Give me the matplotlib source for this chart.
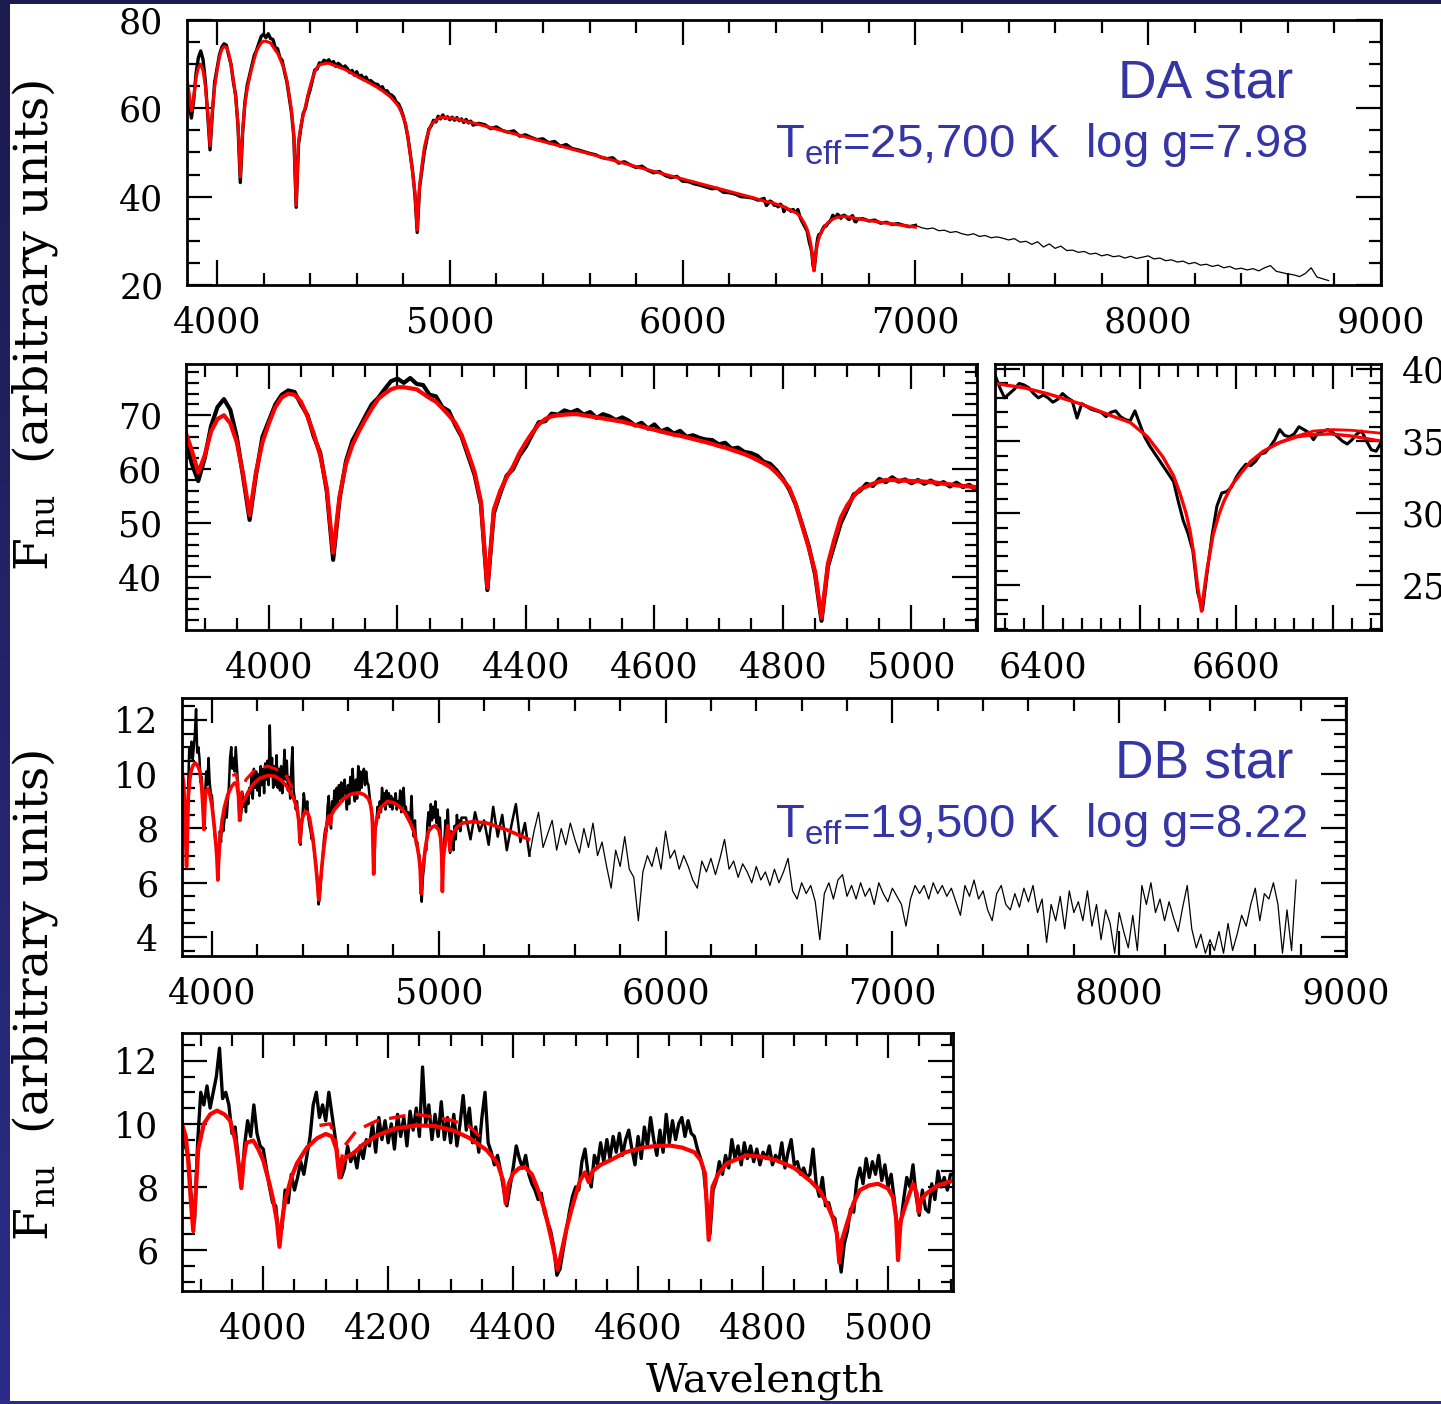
import numpy as np
import matplotlib
matplotlib.use("Agg")
import matplotlib.pyplot as plt
from matplotlib.ticker import MultipleLocator, FuncFormatter
from matplotlib.patches import Rectangle
from matplotlib.colors import LinearSegmentedColormap

plt.rcParams['font.family'] = ['DejaVu Serif']
plt.rcParams['mathtext.fontset'] = 'custom'
plt.rcParams['mathtext.rm'] = 'DejaVu Serif'
plt.rcParams['mathtext.sf'] = 'Liberation Sans'

# ---------------- DA white dwarf ----------------
# observed flux, 10 A sampling starting at 3870 A
da_obs_blue = [
    66.0, 61.0, 57.8, 62.0, 68.0, 71.5, 73.0, 71.0, 66.0, 58.5,
    50.6, 59.0, 66.0, 69.0, 72.0, 73.8, 74.6, 74.3, 72.0, 70.0,
    66.0, 63.0, 56.0, 43.2, 54.5, 61.5, 65.3, 67.5, 69.8, 72.0,
    73.2, 74.8, 76.3, 76.8, 76.0, 76.9, 75.8, 75.6, 73.8, 73.5,
    71.5, 70.8, 68.2, 66.0, 62.5, 59.0, 53.5, 37.6, 51.8, 55.5,
    58.8, 60.0, 62.5, 64.2, 66.5, 68.7, 68.9, 70.3, 70.1, 70.9,
    70.5, 71.0, 70.1, 70.6, 69.5, 70.2, 69.8, 69.1, 69.6, 69.0,
    68.1, 68.6, 67.5, 68.3, 67.0, 67.5, 66.6, 67.1, 66.0, 66.3,
    65.8, 65.5, 65.4, 64.6, 64.9, 63.8, 64.0, 63.2, 63.0, 62.5,
    61.4, 61.0, 59.8, 58.2, 56.2, 53.4, 49.7, 45.8, 40.5, 31.9,
    42.0, 46.0, 50.0, 52.6, 55.3, 56.0, 57.3, 56.9, 58.2, 57.6,
    58.5, 57.7, 58.1, 57.4, 58.0, 57.3, 57.9, 57.2, 57.6, 56.8,
    57.5, 56.7, 57.1, 56.2]
# observed flux, 25 A sampling starting at 5125 A
da_obs_mid = [
    56.6, 56.3, 55.4, 55.8, 55.0, 54.6, 54.9, 53.7, 54.0, 53.4,
    52.9, 53.1, 52.2, 52.5, 51.4, 51.8, 50.9, 50.6, 50.2, 49.8,
    49.5, 48.9, 48.6, 48.8, 47.6, 47.9, 47.2, 46.6, 46.9, 46.0,
    45.4, 45.7, 44.8, 44.3, 44.6, 43.5, 43.4, 42.9, 42.6, 42.2,
    41.8, 41.9, 41.0, 40.9, 40.6, 40.0, 39.9, 39.7, 39.2]
# observed flux around H-alpha, 5 A sampling starting at 6350 A
da_obs_halpha = [
    39.6, 38.7, 38.0, 38.3, 38.6, 39.0, 38.9, 38.7, 38.3, 38.0,
    38.2, 38.0, 37.7, 37.9, 38.3, 38.0, 37.8, 36.6, 37.6, 37.4,
    37.2, 37.1, 37.0, 36.7, 37.0, 37.1, 36.7, 36.5, 36.4, 37.1,
    36.2, 35.3, 34.7, 34.2, 33.7, 33.2, 32.7, 32.2, 30.8, 29.5,
    28.6, 27.4, 24.5, 23.3, 26.0, 28.5, 30.5, 31.4, 31.5, 31.8,
    32.5, 33.0, 33.4, 33.3, 33.6, 34.1, 34.2, 34.6, 35.1, 35.8,
    35.4, 35.3, 35.5, 36.0, 35.8, 35.6, 35.1, 35.6, 35.7, 35.8,
    35.6, 35.3, 35.0, 34.8, 35.1, 35.5, 35.7, 35.0, 34.4, 34.3,
    34.9]
# observed flux, 25 A sampling starting at 6775 A
da_obs_tail = [
    35.0, 34.5, 34.7, 34.0, 34.2, 33.7, 33.9, 33.5, 33.2, 33.5,
    33.0, 32.7, 32.9, 32.3, 32.4, 31.9, 32.1, 31.6, 31.3, 31.6,
    31.0, 31.2, 30.7, 30.9, 30.6, 30.2, 30.5, 29.7, 29.9, 29.2,
    29.8, 28.6, 29.3, 28.3, 28.8, 27.8, 27.9, 27.4, 27.6, 27.0,
    27.2, 26.6, 26.9, 26.4, 26.6, 26.1, 26.5, 26.0, 26.3, 26.6,
    25.9, 26.1, 25.5, 25.7, 25.2, 25.4, 24.8, 25.1, 24.5, 24.7,
    24.2, 24.5, 23.9, 24.2, 23.6, 23.8, 23.4, 23.7, 23.2, 23.9,
    24.4, 23.1, 22.8, 22.5, 22.3, 21.9, 22.6, 23.9, 21.8, 21.4,
    21.0]
# model fit, 10 A sampling from 3870 A
da_fit_blue = [
    67.0, 63.5, 59.4, 62.5, 67.0, 69.3, 70.0, 68.5, 65.0, 59.0,
    51.5, 59.5, 65.0, 68.5, 71.5, 73.3, 74.0, 73.8, 72.5, 69.8,
    66.5, 62.5, 56.5, 44.5, 55.0, 61.0, 64.5, 67.0, 69.2, 71.2,
    73.0, 74.0, 74.8, 75.2, 75.2, 75.0, 74.8, 74.0, 73.2, 72.5,
    71.3, 70.0, 68.6, 66.3, 63.0, 59.5, 54.0, 38.0, 52.5, 56.0,
    58.5, 60.5, 63.0, 65.0, 66.8, 68.3, 69.3, 69.8, 70.0, 70.1,
    70.2, 70.2, 70.0, 69.8, 69.6, 69.4, 69.2, 69.0, 68.8, 68.5,
    68.2, 67.9, 67.6, 67.3, 67.0, 66.7, 66.4, 66.2, 65.9, 65.6,
    65.3, 65.0, 64.7, 64.3, 64.0, 63.6, 63.2, 62.8, 62.3, 61.7,
    61.1, 60.4, 59.3, 58.0, 56.5, 53.5, 49.5, 45.5, 41.0, 32.4,
    42.5, 47.0, 51.0, 53.3, 55.0, 56.3, 56.8, 57.3, 57.7, 58.0,
    58.0, 57.9, 57.9, 57.8, 57.8, 57.7, 57.6, 57.5, 57.3, 57.2,
    57.0, 56.9, 56.8, 56.7]
da_fit_red_wl = [5200, 5400, 5600, 5800, 6000, 6200, 6300, 6350, 6380, 6404,
                 6438, 6473, 6490, 6508, 6524, 6535, 6542, 6548, 6552, 6556,
                 6560, 6564, 6567, 6570, 6576, 6582, 6587, 6595, 6604, 6615,
                 6628, 6645, 6663, 6680, 6697, 6720, 6750, 6850, 7000]
da_fit_red = [55.3, 52.5, 49.7, 46.8, 44.0, 41.2, 39.8, 39.0, 38.7, 38.3,
              37.6, 36.7, 36.3, 35.3, 33.9, 32.6, 31.3, 30.0, 28.8, 27.2,
              24.9, 23.2, 24.8, 26.2, 28.5, 29.9, 30.8, 31.9, 32.7, 33.6,
              34.3, 34.9, 35.3, 35.45, 35.5, 35.35, 35.0, 34.2, 33.1]
da_fit2_wl = [6640, 6660, 6680, 6700, 6720, 6750]
da_fit2 = [34.8, 35.3, 35.7, 35.8, 35.75, 35.55]

# ---------------- DB white dwarf ----------------
# observed flux, 5 A sampling from 3870 A
db_obs_blue = [
    10.0, 9.3, 9.0, 7.6, 6.9, 9.4, 11.0, 10.6, 11.2, 10.5,
    11.0, 11.5, 12.4, 10.8, 11.0, 10.6, 9.7, 9.9, 8.9, 8.0,
    9.3, 10.1, 9.6, 10.6, 9.7, 9.3, 9.2, 8.6, 8.0, 7.5,
    7.4, 6.4, 6.7, 7.9, 7.5, 8.4, 7.9, 8.3, 8.8, 8.4,
    9.0, 9.6, 10.6, 11.0, 10.2, 10.6, 10.1, 11.0, 10.3, 9.6,
    8.8, 8.3, 8.6, 9.3, 8.8, 9.1, 8.6, 9.3, 8.9, 9.5,
    9.3, 10.0, 9.1, 10.2, 9.5, 10.1, 9.4, 10.0, 9.2, 10.3,
    9.6, 10.2, 9.3, 10.4, 9.8, 10.5, 9.6, 11.8, 10.0, 10.6,
    9.5, 10.3, 9.6, 10.7, 9.5, 10.2, 9.4, 10.3, 9.3, 10.0,
    10.9, 9.8, 10.5, 9.4, 9.9, 9.1, 10.2, 11.0, 9.4, 9.1,
    8.7, 9.0, 8.5, 7.9, 7.4, 8.0, 8.6, 9.3, 8.9, 8.6,
    9.0, 8.4, 8.1, 7.9, 7.6, 7.8, 7.2, 6.9, 6.6, 6.1,
    5.2, 5.4, 6.0, 6.6, 7.2, 7.7, 8.0, 7.9, 8.8, 9.2,
    8.4, 8.0, 9.0, 8.7, 9.4, 8.8, 9.5, 8.9, 9.6, 9.1,
    9.7, 9.0, 9.5, 9.8, 9.2, 8.7, 9.6, 8.9, 9.9, 9.3,
    10.2, 9.5, 9.0, 9.8, 9.1, 10.3, 9.4, 10.1, 9.5, 10.0,
    10.2, 9.6, 10.1, 9.7, 9.6, 9.2, 8.9, 8.5, 7.5, 6.5,
    7.9, 8.2, 8.8, 8.4, 9.0, 8.6, 9.5, 8.9, 9.3, 8.7,
    9.4, 8.9, 9.3, 8.8, 9.2, 8.7, 9.1, 8.9, 9.3, 8.7,
    9.0, 8.8, 9.4, 8.6, 9.1, 9.5, 8.7, 8.8, 8.4, 8.6,
    8.3, 8.4, 9.2, 8.1, 7.7, 8.3, 7.4, 7.5, 7.1, 7.0,
    6.2, 5.3, 6.2, 6.6, 7.3, 7.2, 8.2, 8.6, 8.1, 8.9,
    8.3, 8.8, 8.4, 9.0, 8.2, 8.7, 8.0, 8.4, 7.6, 6.6,
    6.8, 7.6, 8.3, 8.0, 8.7, 7.7, 7.1, 7.9, 7.3, 7.2,
    8.1, 7.6, 8.5, 8.0, 8.3, 7.9, 8.4]
# observed flux, 20 A sampling from 5120 A
db_obs_red = [
    8.4, 7.6, 8.6, 7.9, 8.3, 7.4, 8.8, 7.7, 8.5, 7.2,
    8.1, 8.9, 7.5, 8.2, 7.0, 7.9, 8.6, 7.3, 7.8, 8.3,
    7.2, 8.0, 7.4, 8.2, 7.6, 7.1, 8.0, 7.3, 8.2, 7.0,
    7.5, 6.6, 5.8, 7.2, 6.6, 7.7, 6.5, 6.2, 4.6, 6.4,
    7.0, 6.6, 7.3, 6.5, 7.9, 6.9, 7.2, 6.5, 7.0, 6.6,
    6.1, 5.8, 6.8, 6.4, 6.9, 6.3, 6.9, 7.6, 6.5, 6.8,
    6.2, 6.7, 6.4, 6.0, 6.6, 6.1, 6.4, 5.9, 6.5, 6.0,
    6.4, 6.9, 5.7, 5.4, 6.0, 5.6, 5.9, 5.3, 3.9, 5.6,
    6.0, 5.4, 6.1, 6.3, 5.5, 5.9, 5.4, 6.0, 5.5, 5.8,
    5.2, 6.0, 5.6, 5.3, 5.8, 5.5, 5.2, 4.4, 5.4, 5.9,
    5.6, 5.9, 5.4, 6.0, 5.6, 5.9, 5.5, 5.8, 5.3, 4.8,
    5.9, 5.5, 6.1, 5.4, 5.7, 5.0, 4.6, 5.6, 5.9, 5.2,
    5.0, 5.6, 5.1, 5.8, 5.3, 5.9, 4.9, 5.4, 3.8, 5.2,
    4.6, 5.5, 4.3, 5.7, 4.9, 5.3, 4.6, 5.7, 4.4, 5.2,
    3.9, 5.0, 4.5, 3.4, 4.9, 4.2, 3.6, 4.8, 3.5, 5.9,
    5.2, 6.0, 4.9, 5.4, 4.6, 5.3, 4.7, 4.2, 5.1, 5.9,
    4.3, 3.6, 4.1, 3.4, 3.9, 3.5, 4.2, 3.4, 4.5, 3.5,
    4.1, 4.8, 4.4, 5.2, 5.8, 4.6, 5.6, 5.4, 6.0, 5.2,
    3.4, 5.0, 3.5, 6.1]
db_fit_wl = [3870, 3876, 3880, 3884, 3888, 3892, 3896, 3905, 3915, 3926,
             3938, 3947, 3955, 3960, 3965, 3969, 3973, 3984, 3992, 4000,
             4010, 4016, 4022, 4026, 4030, 4035, 4045, 4054, 4070, 4086,
             4100, 4110, 4117, 4122, 4127, 4133, 4144, 4160, 4182, 4210,
             4246, 4275, 4304, 4330, 4358, 4375, 4384, 4388, 4393, 4400,
             4410, 4419, 4430, 4438, 4450, 4459, 4466, 4471, 4477, 4486,
             4495, 4507, 4515, 4521, 4527, 4540, 4555, 4580, 4608, 4630,
             4651, 4670, 4690, 4700, 4707, 4713, 4719, 4728, 4742, 4774,
             4800, 4822, 4850, 4875, 4890, 4902, 4912, 4918, 4922, 4926,
             4936, 4945, 4955, 4970, 4984, 5000, 5008, 5013, 5016, 5020,
             5027, 5040, 5046, 5049, 5053, 5062, 5080, 5104, 5150, 5213,
             5300, 5396]
db_fit = [10.0, 9.6, 8.8, 7.6, 6.6, 7.8, 9.2, 10.0, 10.3, 10.42,
          10.3, 10.1, 9.5, 8.8, 7.96, 8.9, 9.4, 9.47, 9.2, 8.84,
          8.1, 7.58, 6.9, 6.1, 6.9, 7.58, 8.3, 8.75, 9.25, 9.54,
          9.68, 9.6, 9.2, 8.3, 8.75, 8.95, 9.06, 9.35, 9.63, 9.85,
          9.95, 9.93, 9.79, 9.55, 9.16, 8.75, 8.2, 7.48, 8.1, 8.43,
          8.6, 8.62, 8.4, 8.0, 7.3, 6.54, 5.9, 5.37, 5.9, 6.73,
          7.4, 8.2, 8.46, 8.15, 8.5, 8.7, 8.84, 9.1, 9.25, 9.3,
          9.31, 9.25, 9.1, 8.85, 8.43, 6.32, 8.0, 8.4, 8.75, 9.0,
          8.95, 8.84, 8.6, 8.2, 7.9, 7.48, 7.0, 6.53, 5.6, 6.3,
          6.95, 7.5, 7.9, 8.05, 8.1, 7.95, 7.67, 7.0, 5.68, 6.9,
          7.36, 8.1, 7.8, 7.2, 7.6, 7.8, 8.05, 8.2, 8.25, 8.2,
          7.95, 7.6]
db_fit2_wl = [4090, 4107, 4115, 4122, 4130, 4150, 4182, 4224, 4246, 4278, 4304, 4331, 4352]
db_fit2 = [9.95, 10.0, 9.6, 8.6, 9.3, 9.8, 10.1, 10.25, 10.3, 10.2, 10.1, 9.9, 9.5]

annot_color = '#3535a5'
red = '#ff0000'

# ---------------- assemble spectra ----------------
da_wl = np.concatenate([3870 + 10 * np.arange(len(da_obs_blue)),
                        5125 + 25 * np.arange(len(da_obs_mid)),
                        6350 + 5 * np.arange(len(da_obs_halpha)),
                        6775 + 25 * np.arange(len(da_obs_tail))])
da_fl = np.concatenate([da_obs_blue, da_obs_mid, da_obs_halpha, da_obs_tail])
da_fit_wl = np.concatenate([3870 + 10 * np.arange(len(da_fit_blue)), da_fit_red_wl])
da_fit_fl = np.concatenate([da_fit_blue, da_fit_red])

db_wl = np.concatenate([3870 + 5 * np.arange(len(db_obs_blue)),
                        5120 + 20 * np.arange(len(db_obs_red))])
db_fl = np.concatenate([db_obs_blue, db_obs_red])

W, H = 1441, 1404
fig = plt.figure(figsize=(W / 100, H / 100), dpi=100)

# navy frame
bg = fig.add_axes([0, 0, 1, 1], zorder=-10)
bg.axis('off')
cmap = LinearSegmentedColormap.from_list('navy', ['#2c2c88', '#1b1b4e'])
bg.imshow(np.linspace(0, 1, 256).reshape(-1, 1), aspect='auto', cmap=cmap,
          extent=[0, 1, 0, 1], origin='lower')
bg.add_patch(Rectangle((10 / W, 3 / H), 1, 1 - 6.5 / H, facecolor='white',
                       edgecolor='none', transform=bg.transAxes))
bg.set_xlim(0, 1)
bg.set_ylim(0, 1)


def px_axes(l, r, t, b):
    return fig.add_axes([l / W, 1 - b / H, (r - l) / W, (b - t) / H])


def int_fmt(v, p):
    return f'{int(round(v))}'


def style(ax, xmaj, xmin, ymaj, ymin, xlab_every=None):
    ax.xaxis.set_major_locator(MultipleLocator(xmaj))
    ax.xaxis.set_minor_locator(MultipleLocator(xmin))
    ax.yaxis.set_major_locator(MultipleLocator(ymaj))
    ax.yaxis.set_minor_locator(MultipleLocator(ymin))
    if xlab_every:
        ax.xaxis.set_major_formatter(FuncFormatter(
            lambda v, p: f'{int(round(v))}' if int(round(v)) % xlab_every == 0 else ''))
    else:
        ax.xaxis.set_major_formatter(FuncFormatter(int_fmt))
    ax.yaxis.set_major_formatter(FuncFormatter(int_fmt))
    ax.tick_params(which='both', direction='in', top=True, right=True,
                   width=1.6, color='black')
    ax.tick_params(which='major', length=18)
    ax.tick_params(which='minor', length=9)
    ax.tick_params(axis='x', which='major', pad=15, labelsize=25)
    ax.tick_params(axis='y', which='major', pad=17, labelsize=25)
    for s in ax.spines.values():
        s.set_linewidth(2.0)


# Panel 1: DA full spectrum
ax1 = px_axes(187, 1381, 20, 285)
m = da_wl <= 7000
ax1.plot(da_wl[m], da_fl[m], color='black', lw=2.4)
ax1.plot(da_wl[da_wl >= 7000], da_fl[da_wl >= 7000], color='black', lw=0.9)
ax1.plot(da_fit_wl, da_fit_fl, color=red, lw=2.2)
ax1.set_xlim(3871, 9000)
ax1.set_ylim(20, 80)
style(ax1, 1000, 200, 20, 5)

# Panel 2: DA blue zoom
ax2 = px_axes(186, 977, 364, 630)
ax2.plot(da_wl, da_fl, color='black', lw=3.0)
ax2.plot(da_fit_wl, da_fit_fl, color=red, lw=3.0)
ax2.set_xlim(3871, 5102)
ax2.set_ylim(30.2, 79.5)
style(ax2, 200, 50, 10, 2)

# Panel 3: H-alpha zoom
ax3 = px_axes(995, 1381, 364, 630)
ax3.plot(da_wl, da_fl, color='black', lw=2.2)
ax3.plot(da_fit_wl, da_fit_fl, color=red, lw=2.4)
ax3.plot(da_fit2_wl, da_fit2, color=red, lw=2.0)
ax3.set_xlim(6350, 6750)
ax3.set_ylim(21.9, 40.35)
style(ax3, 100, 20, 5, 1, xlab_every=200)
ax3.tick_params(axis='y', labelleft=False, labelright=True, pad=15)

# Panel 4: DB full spectrum
ax4 = px_axes(182, 1346, 698, 956)
m = db_wl <= 5400
ax4.plot(db_wl[m], db_fl[m], color='black', lw=1.8)
ax4.plot(db_wl[db_wl >= 5400], db_fl[db_wl >= 5400], color='black', lw=0.9)
ax4.plot(db_fit_wl, db_fit, color=red, lw=2.6)
ax4.plot(db_fit2_wl, db_fit2, color=red, lw=2.2, ls=(0, (5, 3)))
ax4.set_xlim(3868, 9000)
ax4.set_ylim(3.3, 12.81)
style(ax4, 1000, 200, 2, 0.5)

# Panel 5: DB blue zoom
ax5 = px_axes(182, 953, 1033, 1291)
ax5.plot(db_wl, db_fl, color='black', lw=2.4)
ax5.plot(db_fit_wl, db_fit, color=red, lw=3.0)
ax5.plot(db_fit2_wl, db_fit2, color=red, lw=2.4, ls=(0, (5, 3)))
ax5.set_xlim(3870, 5104)
ax5.set_ylim(4.7, 12.88)
style(ax5, 200, 50, 2, 0.5)

# axis titles
ylab = r'F$_{\mathrm{nu}}$  (arbitrary units)'
fig.text(35 / W, 1 - 325 / H, ylab, rotation=90, ha='center', va='center', fontsize=34)
fig.text(35 / W, 1 - 995 / H, ylab, rotation=90, ha='center', va='center', fontsize=34)
fig.text(765 / W, 1 - 1392 / H, 'Wavelength', ha='center', va='baseline', fontsize=29)

# annotations
sans = 'Liberation Sans'
fig.text(1293 / W, 1 - 98 / H, 'DA star', ha='right', va='baseline',
         fontsize=38.5, color=annot_color, family=sans)
fig.text(1307 / W, 1 - 157 / H, r'T$_{\mathsf{eff}}$=25,700 K  log g=7.98',
         ha='right', va='baseline', fontsize=34, color=annot_color, family=sans)
fig.text(1293 / W, 1 - 777 / H, 'DB star', ha='right', va='baseline',
         fontsize=38.5, color=annot_color, family=sans)
fig.text(1307 / W, 1 - 837 / H, r'T$_{\mathsf{eff}}$=19,500 K  log g=8.22',
         ha='right', va='baseline', fontsize=34, color=annot_color, family=sans)

fig.savefig('out.png', dpi=100)
